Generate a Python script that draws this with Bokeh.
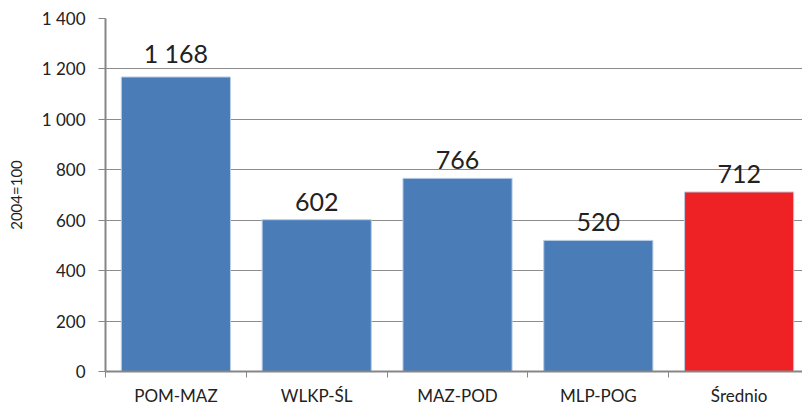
from bokeh.plotting import figure
from bokeh.models import ColumnDataSource, FixedTicker, Range1d, LabelSet
from bokeh.core.properties import value
from bokeh.embed import file_html
from bokeh.resources import INLINE

categories = ["POM-MAZ", "WLKP-ŚL", "MAZ-POD", "MLP-POG", "Średnio"]
values = [1168, 602, 766, 520, 712]
colors = ["#4A7DB8", "#4A7DB8", "#4A7DB8", "#4A7DB8", "#EE2224"]
y_ticks = [0, 200, 400, 600, 800, 1000, 1200, 1400]
y_tick_labels = ["0", "200", "400", "600", "800", "1 000", "1 200", "1 400"]

xs = [i + 0.5 for i in range(len(categories))]
src = ColumnDataSource(dict(
    x=xs, top=values, color=colors,
    label=[f"{v:,}".replace(",", " ") for v in values],
))

FONT = "Lato"

p = figure(width=802, height=408, output_backend="svg", toolbar_location=None,
           x_range=Range1d(0, 4.95), y_range=Range1d(0, 1400),
           min_border_left=105, min_border_top=18, min_border_bottom=35, min_border_right=0)
p.outline_line_color = None
p.background_fill_color = "white"
p.border_fill_color = "white"

p.vbar(x="x", top="top", width=0.775, fill_color="color", line_color="#B9CDE5",
       line_width=1, source=src)

labels = LabelSet(x="x", y="top", text="label", source=src, text_align="center",
                  text_baseline="bottom", y_offset=9, text_font_size="25px",
                  text_color="#222222", text_font=value(FONT))
p.add_layout(labels)

# x axis
p.xaxis.ticker = FixedTicker(ticks=xs, minor_ticks=list(range(len(categories) + 1)))
p.xaxis.major_label_overrides = {x: c for x, c in zip(xs, categories)}
p.xaxis.major_tick_out = 0
p.xaxis.major_tick_in = 0
p.xaxis.minor_tick_out = 6
p.xaxis.minor_tick_in = 0
p.xaxis.minor_tick_line_color = "#868686"
p.xaxis.axis_line_color = "#868686"
p.xaxis.axis_line_width = 2
p.xaxis.major_label_text_font = FONT
p.xaxis.major_label_text_font_size = "17px"
p.xaxis.major_label_text_color = "#222222"
p.xaxis.major_label_standoff = 7

# y axis
p.yaxis.ticker = FixedTicker(ticks=y_ticks, minor_ticks=[])
p.yaxis.major_label_overrides = {t: l for t, l in zip(y_ticks, y_tick_labels)}
p.yaxis.major_tick_out = 7
p.yaxis.major_tick_in = 0
p.yaxis.major_tick_line_color = "#868686"
p.yaxis.axis_line_color = "#868686"
p.yaxis.axis_line_width = 2
p.yaxis.major_label_text_font = FONT
p.yaxis.major_label_text_font_size = "17px"
p.yaxis.major_label_text_color = "#222222"
p.yaxis.major_label_standoff = 13
p.yaxis.axis_label = "2004=100"
p.yaxis.axis_label_text_font = FONT
p.yaxis.axis_label_text_font_style = "normal"
p.yaxis.axis_label_text_font_size = "15px"
p.yaxis.axis_label_text_color = "#222222"
p.yaxis.axis_label_standoff = 14

p.xgrid.grid_line_color = None
p.ygrid.grid_line_color = "#8C8C8C"
p.ygrid.grid_line_width = 1

open("out.html", "w").write(file_html(p, INLINE))
